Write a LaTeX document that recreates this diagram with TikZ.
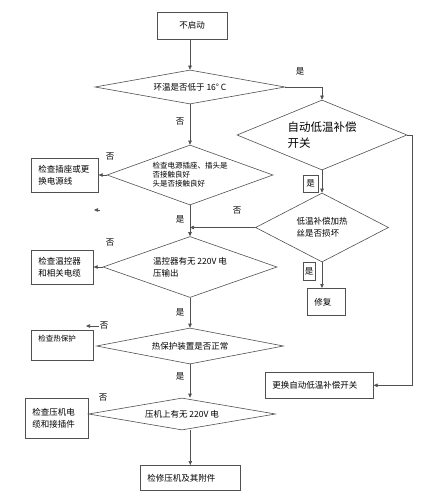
\documentclass[tikz,border=0pt]{standalone}
\usepackage{fontspec}
\newfontfamily\cjk{Noto Sans CJK SC}
\usetikzlibrary{shapes.geometric,arrows.meta}
\definecolor{ln}{HTML}{505050}
\newcommand\fnorm{\cjk\fontsize{8.5}{12}\selectfont}
\newcommand\fsmall{\cjk\fontsize{7.5}{9}\selectfont}
\newcommand\fbig{\cjk\fontsize{11.5}{16}\selectfont}

\begin{document}
\begin{tikzpicture}[x=1pt,y=-1pt,
    line/.style={draw=ln,line width=.6pt},
    arr/.style={line,-{Triangle[length=4pt,width=3.5pt]}},
    box/.style={line,rectangle,anchor=north west,inner xsep=6pt,inner ysep=2pt,align=left,font=\fnorm},
    test/.style={line,diamond,inner sep=0pt,align=left,font=\fnorm},
    yn/.style={font=\fnorm,inner sep=1pt}]
\useasboundingbox (0,0) rectangle (423,500);

\node[box,anchor=center,align=center,minimum width=70,minimum height=27] (start) at (192,25.5) {不启动};

\node[test,minimum width=190,minimum height=34,aspect=5.6]  (d1) at (190,87)  {环温是否低于 16° C};
\node[test,minimum width=170,minimum height=70,aspect=2.43,font=\fbig] (d2) at (322,135) {自动低温补偿\\开关};
\node[test,minimum width=166,minimum height=60,aspect=2.77,font=\fsmall] (dA) at (190,175) {检查电源插座、插头是\\否接触良好\\头是否接触良好};
\node[test,minimum width=133,minimum height=69,aspect=1.93] (d3) at (322,227.5) {低温补偿加热\\丝是否损坏};
\node[test,minimum width=174,minimum height=61,aspect=2.85] (dB) at (190,267) {温控器有无 220V 电\\压输出};
\node[test,minimum width=187,minimum height=36,aspect=5.2]  (dC) at (190,346) {热保护装置是否正常};
\node[test,minimum width=187,minimum height=32,aspect=5.84] (dD) at (182,414) {压机上有无 220V 电};

\node[box,minimum width=67,minimum height=34,text width=53]  (plug)   at ( 31,158) {检查插座或更\\换电源线};
\node[box,minimum width=62,minimum height=34,text width=48]  (tstat)  at ( 31,250) {检查温控器\\和相关电缆};
\node[box,minimum width=62,minimum height=30,text width=48,font=\fsmall,text height=8pt,text depth=16pt] (prot) at (31,330) {检查热保护};
\node[box,minimum width=63,minimum height=40,text width=49]  (comp)   at ( 25,398) {检查压机电\\缆和接插件};
\node[box,minimum width=108,minimum height=26,text width=94] (swap)   at (265,372) {更换自动低温补偿开关};
\node[box,minimum width=38,minimum height=27,text width=24]  (repair) at (307,288) {修复};
\node[box,minimum width=100,minimum height=25,text width=86] (final)  at (140,465) {检修压机及其附件};

\node[yn] (yes1) at (300,71)  {是};
\node[yn] (no1)  at (180,122) {否};
\node[yn] (noA)  at (110,157) {否};
\node[yn] (yesA) at (180,219) {是};
\node[yn] (no3)  at (237,211) {否};
\node[yn,line,minimum width=15,minimum height=17] (yes2) at (310.5,183.5) {是};
\node[yn,line,minimum width=12,minimum height=18] (yes3) at (309,271) {是};
\node[yn] (noB)  at (110,243) {否};
\node[yn] (yesB) at (180,312) {是};
\node[yn] (noC)  at (104,326) {否};
\node[yn] (yesC) at (180,376) {是};
\node[yn] (noD)  at (103,398) {否};
\coordinate (noCend) at (86,326);
\coordinate (stray0) at (100,210);
\coordinate (stray1) at (94,210);

\draw[arr] (start.south -| d1.north) -- (d1.north);
\draw[arr] (d1.east) -| (d2.north);
\draw[arr] (d2.east) -- ++(5,0) |- (swap.east);
\draw[arr] (d1.south) -- (dA.north);
\draw[arr] (dA.west) -- (dA.west -| plug.east);
\draw[arr] (dA.south) -- (dB.north);
\draw[arr] (d2.south) -- (d3.north);
\draw[arr] (d3.west) -- (d3.west -| dA.south);
\draw[arr] (d3.south) -- (d3.south |- repair.north);
\draw[arr] (dB.west) -- (dB.west -| tstat.east);
\draw[arr] (dB.south) -- (dC.north);
\draw[arr] (dC.south) -- (dC.south |- dD.north);
\draw[arr] (dD.south -| final.north) -- (final.north);
\draw[arr] (noC.west) -- (noCend);
\draw[arr] (stray0) -- (stray1);
\end{tikzpicture}
\end{document}
